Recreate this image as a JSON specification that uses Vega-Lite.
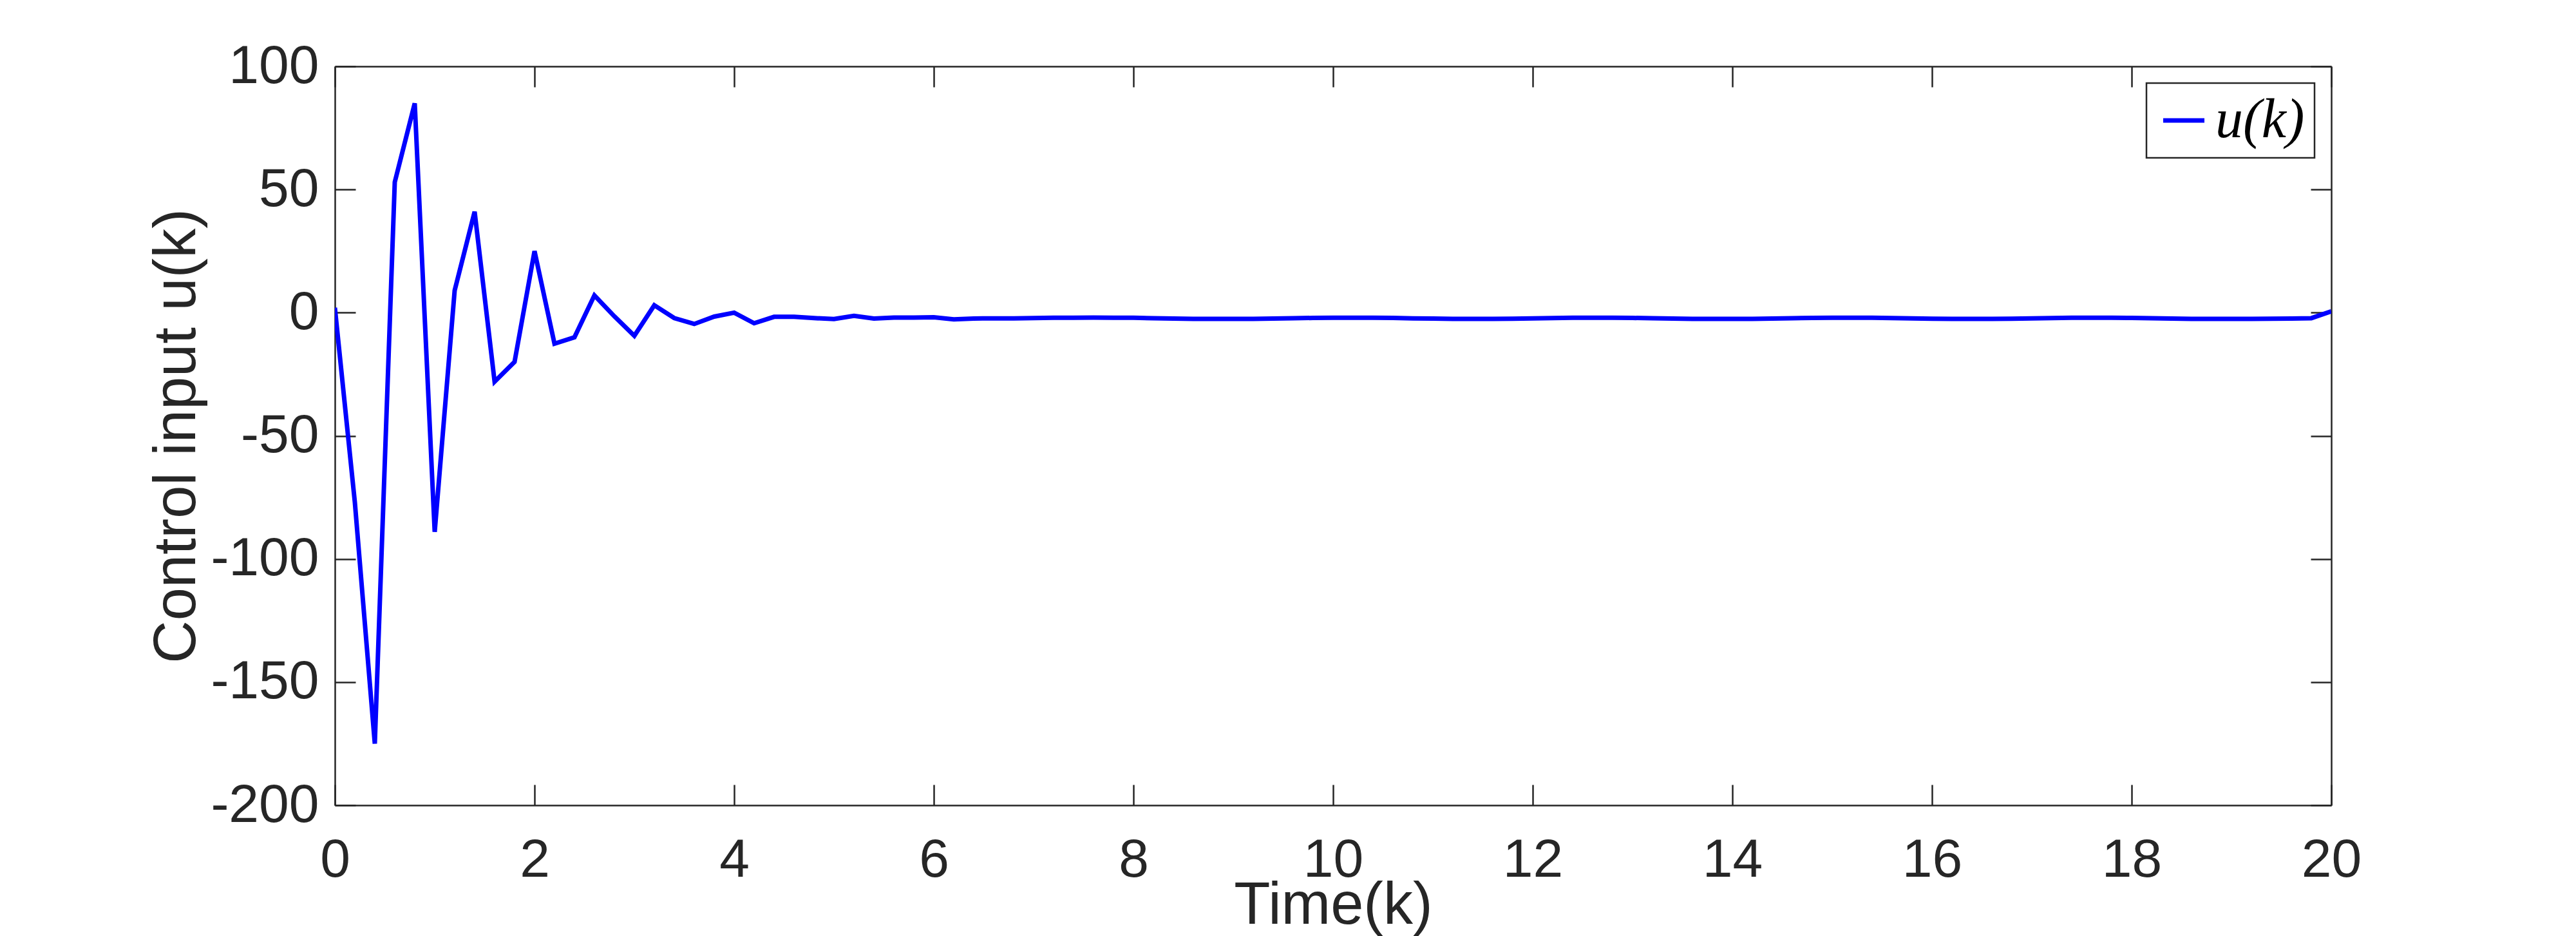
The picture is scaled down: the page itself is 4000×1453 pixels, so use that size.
{
  "$schema": "https://vega.github.io/schema/vega-lite/v6.json",
  "width": 3100,
  "height": 1147,
  "autosize": "none",
  "padding": {"left": 520, "top": 103, "right": 380, "bottom": 203},
  "background": "white",
  "config": {
    "view": {"stroke": null},
    "axis": {
      "grid": false,
      "domainColor": "#262626",
      "domainWidth": 2.5,
      "tickColor": "#262626",
      "tickWidth": 2.5,
      "tickSize": -32,
      "labelFont": "Liberation Sans",
      "labelFontSize": 84,
      "labelColor": "#262626",
      "labelLimit": 0,
      "titleFont": "Liberation Sans",
      "titleFontSize": 92,
      "titleFontWeight": "normal",
      "titleColor": "#262626"
    },
    "legend": {
      "strokeColor": "#262626",
      "strokeWidth": 2.5,
      "fillColor": "white",
      "padding": 15,
      "symbolType": "stroke",
      "symbolSize": 4096,
      "symbolStrokeWidth": 7,
      "labelFont": "Liberation Serif",
      "labelFontStyle": "italic",
      "labelFontSize": 86,
      "labelColor": "#000000",
      "labelOffset": 6,
      "labelLimit": 0
    }
  },
  "data": {
    "values": [
      {"t": 0.0, "u": 2}, {"t": 0.2, "u": -77}, {"t": 0.4, "u": -175}, {"t": 0.6, "u": 53},
      {"t": 0.8, "u": 85}, {"t": 1.0, "u": -89}, {"t": 1.2, "u": 9}, {"t": 1.4, "u": 41},
      {"t": 1.6, "u": -28}, {"t": 1.8, "u": -20}, {"t": 2.0, "u": 25}, {"t": 2.2, "u": -12.6},
      {"t": 2.4, "u": -10}, {"t": 2.6, "u": 7}, {"t": 2.8, "u": -1.5}, {"t": 3.0, "u": -9.4},
      {"t": 3.2, "u": 3}, {"t": 3.4, "u": -2.2}, {"t": 3.6, "u": -4.6}, {"t": 3.8, "u": -1.6},
      {"t": 4.0, "u": 0}, {"t": 4.2, "u": -4.3}, {"t": 4.4, "u": -1.7}, {"t": 4.6, "u": -1.7},
      {"t": 4.8, "u": -2.2}, {"t": 5.0, "u": -2.6}, {"t": 5.2, "u": -1.3}, {"t": 5.4, "u": -2.4},
      {"t": 5.6, "u": -2.0}, {"t": 5.8, "u": -2.0}, {"t": 6.0, "u": -1.9}, {"t": 6.2, "u": -2.7},
      {"t": 6.4, "u": -2.4}, {"t": 6.6, "u": -2.3}, {"t": 6.8, "u": -2.3}, {"t": 7.0, "u": -2.2},
      {"t": 7.2, "u": -2.1}, {"t": 7.4, "u": -2.05}, {"t": 7.6, "u": -2.0}, {"t": 7.8, "u": -2.05},
      {"t": 8.0, "u": -2.1}, {"t": 8.2, "u": -2.25}, {"t": 8.4, "u": -2.4}, {"t": 8.6, "u": -2.5},
      {"t": 8.8, "u": -2.55}, {"t": 9.0, "u": -2.55}, {"t": 9.2, "u": -2.5}, {"t": 9.4, "u": -2.4},
      {"t": 9.6, "u": -2.25}, {"t": 9.8, "u": -2.15}, {"t": 10.0, "u": -2.1}, {"t": 10.2, "u": -2.05},
      {"t": 10.4, "u": -2.1}, {"t": 10.6, "u": -2.15}, {"t": 10.8, "u": -2.3}, {"t": 11.0, "u": -2.4},
      {"t": 11.2, "u": -2.5}, {"t": 11.4, "u": -2.55}, {"t": 11.6, "u": -2.5}, {"t": 11.8, "u": -2.45},
      {"t": 12.0, "u": -2.35}, {"t": 12.2, "u": -2.2}, {"t": 12.4, "u": -2.1}, {"t": 12.6, "u": -2.05},
      {"t": 12.8, "u": -2.1}, {"t": 13.0, "u": -2.15}, {"t": 13.2, "u": -2.25}, {"t": 13.4, "u": -2.4},
      {"t": 13.6, "u": -2.5}, {"t": 13.8, "u": -2.55}, {"t": 14.0, "u": -2.55}, {"t": 14.2, "u": -2.5},
      {"t": 14.4, "u": -2.4}, {"t": 14.6, "u": -2.25}, {"t": 14.8, "u": -2.15}, {"t": 15.0, "u": -2.1},
      {"t": 15.2, "u": -2.05}, {"t": 15.4, "u": -2.1}, {"t": 15.6, "u": -2.2}, {"t": 15.8, "u": -2.3},
      {"t": 16.0, "u": -2.45}, {"t": 16.2, "u": -2.55}, {"t": 16.4, "u": -2.55}, {"t": 16.6, "u": -2.5},
      {"t": 16.8, "u": -2.45}, {"t": 17.0, "u": -2.3}, {"t": 17.2, "u": -2.2}, {"t": 17.4, "u": -2.1},
      {"t": 17.6, "u": -2.05}, {"t": 17.8, "u": -2.1}, {"t": 18.0, "u": -2.15}, {"t": 18.2, "u": -2.25},
      {"t": 18.4, "u": -2.4}, {"t": 18.6, "u": -2.5}, {"t": 18.8, "u": -2.55}, {"t": 19.0, "u": -2.55},
      {"t": 19.2, "u": -2.5}, {"t": 19.4, "u": -2.45}, {"t": 19.6, "u": -2.4}, {"t": 19.8, "u": -2.25},
      {"t": 20.0, "u": 0.5}
    ]
  },
  "layer": [
    {
      "mark": {"type": "line", "strokeWidth": 7, "clip": true},
      "encoding": {
        "x": {
          "field": "t", "type": "quantitative",
          "scale": {"domain": [0, 20], "nice": false, "zero": false},
          "axis": {
            "orient": "bottom",
            "values": [0, 2, 4, 6, 8, 10, 12, 14, 16, 18, 20],
            "labelExpr": "'' + datum.value",
            "labelPadding": 76,
            "labelBaseline": "top",
            "title": "Time(k)",
            "titleX": 1550,
            "titleY": 183,
            "titleBaseline": "alphabetic",
            "titleAlign": "center",
            "labelFlush": false
          }
        },
        "y": {
          "field": "u", "type": "quantitative",
          "scale": {"domain": [-200, 100], "nice": false, "zero": false},
          "axis": {
            "orient": "left",
            "values": [-200, -150, -100, -50, 0, 50, 100],
            "labelExpr": "'' + datum.value",
            "labelPadding": 57,
            "labelAlign": "right",
            "labelBaseline": "middle",
            "title": "Control input u(k)",
            "titleX": -218,
            "titleY": 573.5,
            "titleAngle": -90,
            "titleBaseline": "alphabetic",
            "titleAlign": "center",
            "labelFlush": false
          }
        },
        "color": {
          "datum": "u(k)",
          "type": "nominal",
          "scale": {"domain": ["u(k)"], "range": ["#0000FF"]},
          "legend": {"title": null, "orient": "top-right", "offset": 26}
        }
      }
    },
    {
      "mark": {"type": "line", "opacity": 0},
      "encoding": {
        "x": {
          "field": "t", "type": "quantitative",
          "axis": {"orient": "top", "values": [0, 2, 4, 6, 8, 10, 12, 14, 16, 18, 20], "labels": false, "title": null}
        },
        "y": {
          "field": "u", "type": "quantitative",
          "axis": {"orient": "right", "values": [-200, -150, -100, -50, 0, 50, 100], "labels": false, "title": null}
        }
      }
    }
  ],
  "resolve": {"axis": {"x": "independent", "y": "independent"}}
}
